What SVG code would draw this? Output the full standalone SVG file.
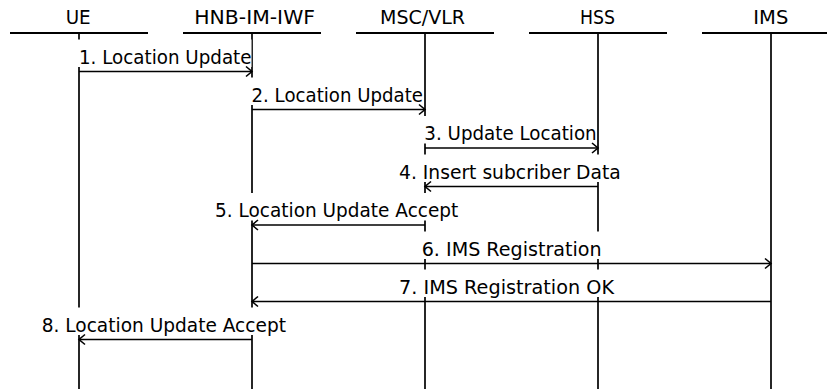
<svg xmlns="http://www.w3.org/2000/svg" width="827" height="389" viewBox="0 0 827 389">
<defs>
<style>
.hdr{stroke:#000;stroke-width:2;fill:none}
.life{stroke:#000;stroke-width:1.7;fill:none}
.msg{stroke:#000;stroke-width:1.7;fill:none;marker-end:url(#arr)}
.bg{fill:#fff;stroke:none}
text{font-family:"DejaVu Sans","Liberation Sans",sans-serif;font-size:19px;fill:#000}
</style>
<marker id="arr" viewBox="-8 -7 10 14" refX="0" refY="0" markerWidth="10" markerHeight="14" markerUnits="userSpaceOnUse" orient="auto" overflow="visible">
<path d="M-6,-5 L0,0 L-6,5" fill="none" stroke="#000" stroke-width="1.6"/>
</marker>
</defs>
<rect width="827" height="389" fill="#fff"/>
<g id="UE">
<line class="hdr" x1="10" y1="33" x2="148" y2="33"/>
<line class="life" x1="79" y1="33" x2="79" y2="389"/>
<text x="65.7" y="24" textLength="25" lengthAdjust="spacingAndGlyphs">UE</text>
</g>
<g id="HNB-IM-IWF">
<line class="hdr" x1="183" y1="33" x2="321" y2="33"/>
<line class="life" x1="252" y1="33" x2="252" y2="389"/>
<text x="194.3" y="24" textLength="120.7" lengthAdjust="spacingAndGlyphs">HNB-IM-IWF</text>
</g>
<g id="MSC-VLR">
<line class="hdr" x1="356" y1="33" x2="494" y2="33"/>
<line class="life" x1="425" y1="33" x2="425" y2="389"/>
<text x="380" y="24" textLength="85" lengthAdjust="spacingAndGlyphs">MSC/VLR</text>
</g>
<g id="HSS">
<line class="hdr" x1="529" y1="33" x2="667" y2="33"/>
<line class="life" x1="598" y1="33" x2="598" y2="389"/>
<text x="580" y="24" textLength="35" lengthAdjust="spacingAndGlyphs">HSS</text>
</g>
<g id="IMS">
<line class="hdr" x1="702" y1="33" x2="840" y2="33"/>
<line class="life" x1="771" y1="33" x2="771" y2="389"/>
<text x="753.3" y="24" textLength="35" lengthAdjust="spacingAndGlyphs">IMS</text>
</g>
<g id="connectors">
<rect class="bg" x="77.5" y="39.5" width="174" height="27.5"/>
<rect class="bg" x="250" y="77.5" width="173" height="27.5"/>
<rect class="bg" x="422.8" y="116" width="173.9" height="27.5"/>
<rect class="bg" x="397.5" y="154.5" width="223.2" height="27.5"/>
<rect class="bg" x="213.5" y="193" width="244.8" height="27.5"/>
<rect class="bg" x="420.2" y="231.5" width="181.5" height="27.5"/>
<rect class="bg" x="397.5" y="269.5" width="216.5" height="27.5"/>
<rect class="bg" x="40.2" y="307.5" width="245.8" height="27.5"/>
<line class="msg" x1="79" y1="71.5" x2="252" y2="71.5"/>
<line class="msg" x1="252" y1="109.5" x2="425" y2="109.5"/>
<line class="msg" x1="425" y1="148" x2="598" y2="148"/>
<line class="msg" x1="598" y1="186.5" x2="425" y2="186.5"/>
<line class="msg" x1="425" y1="225" x2="252" y2="225"/>
<line class="msg" x1="252" y1="263.5" x2="771" y2="263.5"/>
<line class="msg" x1="771" y1="301.5" x2="252" y2="301.5"/>
<line class="msg" x1="252" y1="339.5" x2="79" y2="339.5"/>
<text x="79" y="63.5" textLength="172.5" lengthAdjust="spacingAndGlyphs">1. Location Update</text>
<text x="251.5" y="101.5" textLength="171.5" lengthAdjust="spacingAndGlyphs">2. Location Update</text>
<text x="424.3" y="140" textLength="172.4" lengthAdjust="spacingAndGlyphs">3. Update Location</text>
<text x="399" y="178.5" textLength="221.7" lengthAdjust="spacingAndGlyphs">4. Insert subcriber Data</text>
<text x="215" y="217" textLength="243.3" lengthAdjust="spacingAndGlyphs">5. Location Update Accept</text>
<text x="421.7" y="255.5" textLength="180" lengthAdjust="spacingAndGlyphs">6. IMS Registration</text>
<text x="399" y="293.5" textLength="215" lengthAdjust="spacingAndGlyphs">7. IMS Registration OK</text>
<text x="41.7" y="331.5" textLength="244.3" lengthAdjust="spacingAndGlyphs">8. Location Update Accept</text>
</g>
</svg>
